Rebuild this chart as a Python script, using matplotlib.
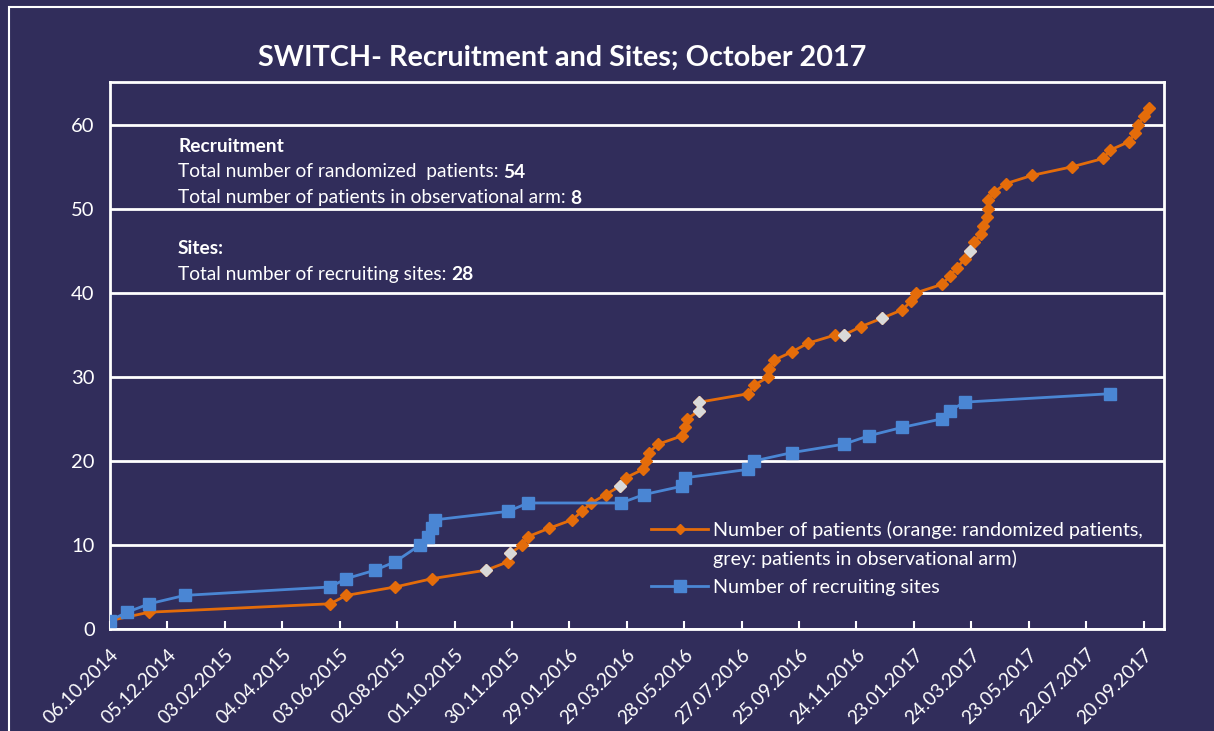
import matplotlib
matplotlib.use("Agg")
import matplotlib.pyplot as plt
import matplotlib.dates as mdates
from matplotlib.lines import Line2D
from matplotlib.patches import Rectangle
import pandas as pd

plt.rcParams["font.family"] = ["Lato", "DejaVu Sans"]

# dados
pat_dates = ["2014-10-06", "2014-11-16", "2015-05-24", "2015-06-10", "2015-07-31",
             "2015-09-08", "2015-11-03", "2015-11-26", "2015-11-28", "2015-12-11",
             "2015-12-17", "2016-01-08", "2016-02-01", "2016-02-11", "2016-02-21",
             "2016-03-07", "2016-03-22", "2016-03-28", "2016-04-15", "2016-04-18",
             "2016-04-21", "2016-05-01", "2016-05-26", "2016-05-29", "2016-05-31",
             "2016-06-13", "2016-06-13", "2016-08-03", "2016-08-09", "2016-08-24",
             "2016-08-25", "2016-08-30", "2016-09-18", "2016-10-04", "2016-11-02",
             "2016-11-11", "2016-11-29", "2016-12-21", "2017-01-11", "2017-01-20",
             "2017-01-25", "2017-02-21", "2017-03-02", "2017-03-09", "2017-03-17",
             "2017-03-23", "2017-03-27", "2017-04-03", "2017-04-05", "2017-04-09",
             "2017-04-11", "2017-04-11", "2017-04-17", "2017-04-29", "2017-05-27",
             "2017-07-07", "2017-08-09", "2017-08-16", "2017-09-05", "2017-09-11",
             "2017-09-14", "2017-09-21", "2017-09-26"]
pat_values = [1, 2, 3, 4, 5, 6, 7, 8, 9, 10,
              11, 12, 13, 14, 15, 16, 17, 18, 19, 20,
              21, 22, 23, 24, 25, 26, 27, 28, 29, 30,
              31, 32, 33, 34, 35, 35, 36, 37, 38, 39,
              40, 41, 42, 43, 44, 45, 46, 47, 48, 49,
              50, 51, 52, 53, 54, 55, 56, 57, 58, 59,
              60, 61, 62]
# R = randomizado (laranja), O = braço observacional (cinza), um por ponto
pat_arm = list("RRRRRROROR" "RRRRRRORRR" "RRRRROORRR" "RRRRRORORR" "RRRRRORRRR"
               "RRRRRRRRRR" "RRR")

site_dates = ["2014-10-06", "2014-10-24", "2014-11-16", "2014-12-23", "2015-05-24",
              "2015-06-10", "2015-07-10", "2015-07-31", "2015-08-26", "2015-09-03",
              "2015-09-08", "2015-09-11", "2015-11-26", "2015-12-17", "2016-03-23",
              "2016-04-16", "2016-05-26", "2016-05-29", "2016-08-03", "2016-08-09",
              "2016-09-18", "2016-11-11", "2016-12-07", "2017-01-11", "2017-02-21",
              "2017-03-02", "2017-03-17", "2017-08-16"]
site_values = [1, 2, 3, 4, 5, 6, 7, 8, 10, 11,
               12, 13, 14, 15, 15, 16, 17, 18, 19, 20,
               21, 22, 23, 24, 25, 26, 27, 28]

pat = pd.DataFrame({"data": pd.to_datetime(pat_dates), "n": pat_values, "braco": pat_arm})
sites = pd.DataFrame({"data": pd.to_datetime(site_dates), "n": site_values})

fundo = "#312d5b"
laranja = "#e46c0a"
azul = "#4a86d4"
cinza = "#d9d9d9"

fig = plt.figure(figsize=(12.14, 7.31), dpi=100, facecolor=fundo)
ax = fig.add_axes([110 / 1214, 1 - 629 / 731, (1164 - 110) / 1214, (629 - 82) / 731])
ax.set_facecolor(fundo)

ax.plot(pat["data"], pat["n"], color=laranja, lw=2, marker="D", ms=6.5, zorder=3)
obs = pat[pat["braco"] == "O"]
ax.plot(obs["data"], obs["n"], ls="none", marker="D", ms=6.5, color=cinza, zorder=4)
ax.plot(sites["data"], sites["n"], color=azul, lw=2, marker="s", ms=8, zorder=5)

inicio = pd.Timestamp("2014-10-06")
ax.set_xlim(inicio, pd.Timestamp("2017-10-11 10:00"))
ax.set_ylim(0, 65.1)
ticks = pd.date_range(inicio, periods=19, freq="60D")
ax.set_xticks(ticks)
ax.xaxis.set_major_formatter(mdates.DateFormatter("%d.%m.%Y"))
ax.set_yticks(range(0, 61, 10))
ax.grid(True, axis="y", color="white", lw=2)
ax.set_axisbelow(True)
for s in ax.spines.values():
    s.set_color("white")
    s.set_linewidth(2)
ax.tick_params(axis="x", direction="in", length=6, width=1.5, color="white",
               labelcolor="white", labelsize=13.8, pad=12)
ax.tick_params(axis="y", length=0, labelcolor="white", labelsize=14.5, pad=11)
for lbl in ax.get_xticklabels():
    lbl.set_rotation(45)
    lbl.set_ha("right")
    lbl.set_va("top")
    lbl.set_rotation_mode("anchor")

fig.text(562 / 1214, 1 - 58 / 731, "SWITCH- Recruitment and Sites; October 2017",
         color="white", fontsize=20.7, fontweight="bold", ha="center", va="center")

# caixa de texto
tx = 178 / 1214
tam = 13.8
linhas = [(147, "Recruitment", None),
          (172, "Total number of randomized  patients: ", "54"),
          (198, "Total number of patients in observational arm: ", "8"),
          (248, "Sites:", None),
          (274, "Total number of recruiting sites: ", "28")]
for y, txt, num in linhas:
    peso = "bold" if num is None else "normal"
    t = fig.text(tx, 1 - y / 731, txt, color="white", fontsize=tam,
                 fontweight=peso, ha="left", va="center")
    if num is not None:
        fig.canvas.draw()
        bb = t.get_window_extent()
        fig.text(bb.x1 / 1214, 1 - y / 731, num, color="white", fontsize=tam,
                 fontweight="bold", ha="left", va="center")

handles = [Line2D([], [], color=laranja, lw=2, marker="D", ms=5),
           Line2D([], [], color="none"),
           Line2D([], [], color=azul, lw=2, marker="s", ms=8)]
labels = ["Number of patients (orange: randomized patients,",
          "grey: patients in observational arm)",
          "Number of recruiting sites"]
leg = ax.legend(handles, labels, loc="upper left", bbox_to_anchor=(651 / 1214, 1 - 521 / 731),
                bbox_transform=fig.transFigure, frameon=False, fontsize=14.2,
                labelcolor="white", handlelength=2.9, handletextpad=0.25,
                labelspacing=0.55, borderaxespad=0, borderpad=0)

fig.add_artist(Rectangle((9 / 1214, -0.1), 1.2, 1 - 7 / 731 + 0.1, transform=fig.transFigure,
                         fill=False, ec="white", lw=1.5))

fig.savefig("out.png", dpi=100, facecolor=fundo)
